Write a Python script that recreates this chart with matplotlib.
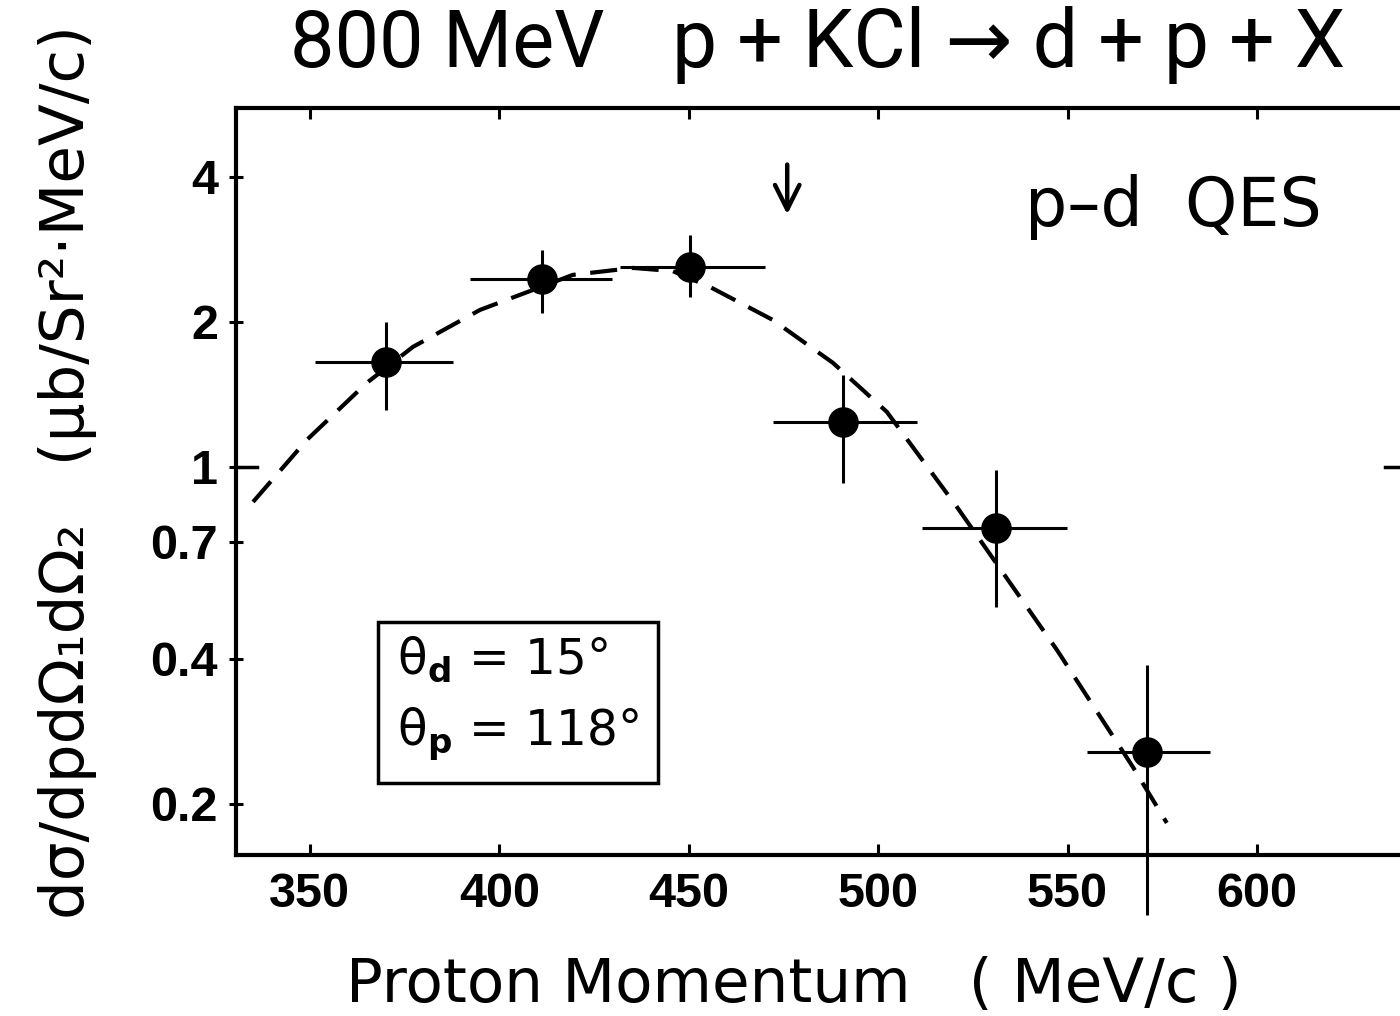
import matplotlib.pyplot as plt
import matplotlib.transforms as mtransforms

# measured points (proton momentum in MeV/c, cross section)
p_mom = [370.0, 411.2, 450.3, 490.7, 531.1, 571.0]
xs = [1.65, 2.45, 2.60, 1.24, 0.747, 0.256]
p_lo = [351.3, 392.2, 431.8, 472.2, 511.6, 555.1]
p_hi = [387.8, 429.7, 470.1, 510.2, 549.8, 587.6]
xs_lo = [1.31, 2.09, 2.25, 0.926, 0.512, 0.1175]
xs_hi = [2.00, 2.82, 3.03, 1.553, 0.986, 0.388]

# dashed calculation curve
curve_p = [335.0, 349.2, 365.0, 377.2, 394.9, 419.4, 435.3, 445.8, 455.6,
           472.2, 488.1, 502.3, 520.8, 547.2, 567.3, 576.2]
curve_xs = [0.846, 1.138, 1.494, 1.775, 2.118, 2.504, 2.589, 2.55, 2.364,
            2.019, 1.644, 1.301, 0.826, 0.417, 0.238, 0.1824]

x_ticks = [350, 400, 450, 500, 550, 600]
y_ticks = [0.2, 0.4, 0.7, 1, 2, 4]
y_labels = ["0.2", "0.4", "0.7", "1", "2", "4"]

title_font = ["Roboto", "DejaVu Sans"]

fig = plt.figure(figsize=(14, 10.16), dpi=100)
ax = fig.add_axes([236 / 1400, 1 - 855 / 1016, (1408.5 - 236) / 1400, (855 - 108) / 1016])
ax.set_yscale("log")
ax.set_xlim(330.5, 640)
ax.set_ylim(0.1565, 5.56)

xerr = [[c - l for c, l in zip(p_mom, p_lo)], [h - c for c, h in zip(p_mom, p_hi)]]
yerr = [[c - l for c, l in zip(xs, xs_lo)], [h - c for c, h in zip(xs, xs_hi)]]
eb = ax.errorbar(p_mom, xs, xerr=xerr, yerr=yerr, fmt="o", color="black",
                 ms=21, elinewidth=2.2, capsize=0)
for art in eb.lines[2]:
    art.set_clip_on(False)

ax.plot(curve_p, curve_xs, color="black", lw=3, ls=(0, (6.5, 3.5)))

for s in ax.spines.values():
    s.set_linewidth(3)

ax.set_xticks(x_ticks)
ax.set_xticklabels([str(v) for v in x_ticks])
ax.set_yticks(y_ticks, y_labels)
ax.minorticks_off()
ax.tick_params(axis="x", which="major", direction="in", length=8, width=2.2,
               top=True, pad=12)
ax.tick_params(axis="y", which="major", direction="inout", length=10, width=2.2,
               pad=8)
for lab in ax.get_xticklabels() + ax.get_yticklabels():
    lab.set_family(["Liberation Sans", "DejaVu Sans"])
    lab.set_fontweight("bold")
    lab.set_fontsize(35)

# longer ticks at 1 on both sides
tr = mtransforms.blended_transform_factory(ax.transAxes, ax.transData)
ax.plot([0, 0.018], [1, 1], color="black", lw=2.5, transform=tr, clip_on=False)
ax.plot([0.98, 1.0], [1, 1], color="black", lw=2.5, transform=tr, clip_on=False)

ax.annotate("", xy=(476, 3.3), xytext=(476, 4.3),
            arrowprops=dict(arrowstyle="->", lw=3.2, mutation_scale=44, color="black"))

fig.text(1025 / 1400, 1 - 207 / 1016, "p\u2013d  QES", fontsize=48, va="center",
         ha="left")

fig.text(518 / 1400, 1 - 699 / 1016,
         "\u03b8$_\\mathbf{d}$ = 15\u00b0\n\u03b8$_\\mathbf{p}$ = 118\u00b0",
         fontsize=35, ha="center", va="center", linespacing=1.55,
         multialignment="left",
         bbox=dict(boxstyle="square,pad=0.4", fc="white", ec="black", lw=2.5))

fig.text(290 / 1400, 1 - 45 / 1016, "800 MeV", family=title_font, fontsize=57,
         ha="left", va="center")
fig.text(672 / 1400, 1 - 45 / 1016, "p + KCl \u2192 d + p + X", family=title_font,
         fontsize=58, ha="left", va="center")

fig.text(794 / 1400, 1 - 985 / 1016, "Proton Momentum   ( MeV/c )",
         fontsize=44, ha="center", va="center")
fig.text(68 / 1400, 1 - 472 / 1016,
         "d\u03c3/dpd\u03a9\u2081d\u03a9\u2082   (\u03bcb/Sr\u00b2\u00b7MeV/c)",
         fontsize=44, rotation=90, ha="center", va="center")

fig.savefig("out.png", dpi=100)
